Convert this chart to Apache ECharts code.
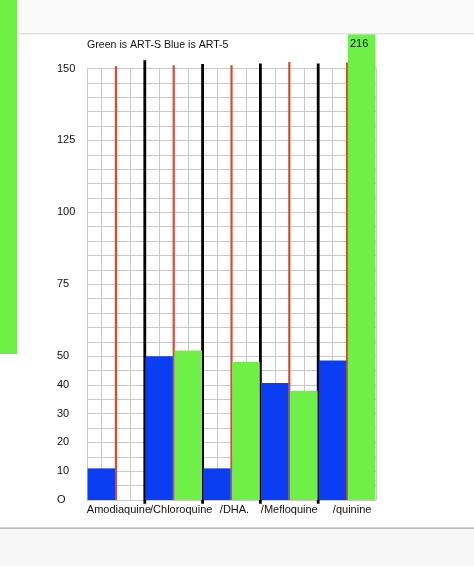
<!DOCTYPE html>
<html>
<head>
<meta charset="utf-8">
<script src="https://cdn.jsdelivr.net/npm/echarts@6/dist/echarts.min.js"></script>
<style>
  html, body { margin: 0; padding: 0; background: #fff; }
  #chart { width: 474px; height: 566px; }
</style>
</head>
<body>
<div id="chart"></div>
<script>
// drug names under the groups
var drugs = ['Amodiaquine', '/Chloroquine', '/DHA.', '/Mefloquine', '/quinine'];
// blue = ART-5, green = ART-S
var blueVals = [11, 50, 11, 40.7, 48.5];
var greenVals = [null, 52, 48, 38, 216];
// y tick labels (the zero is written as an O)
var yTickVals = [0, 10, 20, 30, 40, 50, 75, 100, 125, 150];
var yTickText = ['O', '10', '20', '30', '40', '50', '75', '100', '125', '150'];
// hand drawn dividers, x in grid cells, [x, top, bottom]
var redLines = [[2, 150.8, 0], [6, 151.1, 0], [10, 151.1, 0], [14, 152.3, 0], [18, 152.1, 0]];
var blackLines = [[4, 152.9, -1.3], [8, 151.6, -1.3], [12, 151.7, -1.3], [16, 151.7, -1.3]];

var font = 'Liberation Sans, Arial, Helvetica, sans-serif';
var GREEN = '#6ef046', BLUE = '#0b3ef2';
var labelPad = [6, 15, 6, 0, 10];

function lineItem(color, w) {
  return function (params, api) {
    var p1 = api.coord([api.value(0), api.value(2)]);
    var p2 = api.coord([api.value(0), api.value(1)]);
    return {
      type: 'line',
      shape: { x1: p1[0], y1: p1[1], x2: p2[0], y2: p2[1] },
      style: { stroke: color, lineWidth: w }
    };
  };
}

var chart = echarts.init(document.getElementById('chart'));
var rich = {};
for (var i = 0; i < drugs.length; i++) {
  rich['l' + i] = { padding: [0, 0, 0, labelPad[i]], fontSize: 11, color: '#111', fontFamily: font };
}

chart.setOption({
  animation: false,
  title: {
    text: 'Green is ART-S Blue is ART-5',
    left: 82, top: 35,
    textStyle: { fontSize: 10.6, fontWeight: 'normal', color: '#111', fontFamily: font }
  },
  grid: { left: 87, right: 98, top: 68.5, bottom: 66 },
  xAxis: [{
    type: 'category',
    data: drugs,
    axisLine: { show: false },
    axisTick: { show: false },
    splitLine: { show: false },
    axisLabel: {
      interval: 0, margin: 4,
      formatter: function (v, idx) { return '{l' + idx + '|' + v + '}'; },
      rich: rich
    }
  }, {
    type: 'value',
    min: 0, max: 20, interval: 1,
    position: 'bottom',
    axisLine: { show: false },
    axisTick: { show: false },
    axisLabel: { show: false },
    splitLine: { show: true, lineStyle: { color: '#c9c9c9', width: 1 } }
  }],
  yAxis: {
    type: 'value',
    min: 0, max: 150, interval: 5,
    axisLine: { show: false },
    axisTick: { show: false },
    splitLine: { lineStyle: { color: '#c9c9c9', width: 1 } },
    axisLabel: {
      align: 'left', margin: 30,
      padding: [3, 0, 0, 0],
      fontSize: 11, color: '#111', fontFamily: font,
      formatter: function (v) {
        var k = yTickVals.indexOf(v);
        return k < 0 ? '' : yTickText[k];
      }
    }
  },
  series: [{
    type: 'custom',
    xAxisIndex: 1,
    renderItem: lineItem('#e0492c', 2.2),
    data: redLines,
    clip: false,
    z: 1
  }, {
    type: 'custom',
    xAxisIndex: 1,
    renderItem: lineItem('#000', 2.8),
    data: blackLines,
    clip: false,
    z: 1
  }, {
    name: 'ART-5',
    type: 'bar',
    data: blueVals,
    itemStyle: { color: BLUE },
    barGap: '6%',
    barCategoryGap: '2%',
    clip: false,
    z: 3
  }, {
    name: 'ART-S',
    type: 'bar',
    data: greenVals,
    itemStyle: { color: GREEN },
    barGap: '6%',
    barCategoryGap: '2%',
    clip: false,
    z: 3
  }],
  graphic: [
    { type: 'rect', z: 100, shape: { x: 0, y: 0, width: 474, height: 33 }, style: { fill: '#fafafa' } },
    { type: 'rect', z: 100, shape: { x: 0, y: 33, width: 474, height: 1.5 }, style: { fill: '#e4e4e4' } },
    { type: 'rect', z: 101, shape: { x: 0, y: 0, width: 17, height: 354 }, style: { fill: GREEN } },
    { type: 'rect', z: 100, shape: { x: 0, y: 528, width: 474, height: 38 }, style: { fill: '#f6f6f6' } },
    { type: 'rect', z: 100, shape: { x: 0, y: 527.5, width: 474, height: 1.2 }, style: { fill: '#a9a9a9' } },
    { type: 'text', z: 100, left: 350, top: 38, style: { text: String(greenVals[4]), fontSize: 11, fill: '#111', font: '11px ' + font } }
  ]
});
</script>
</body>
</html>
